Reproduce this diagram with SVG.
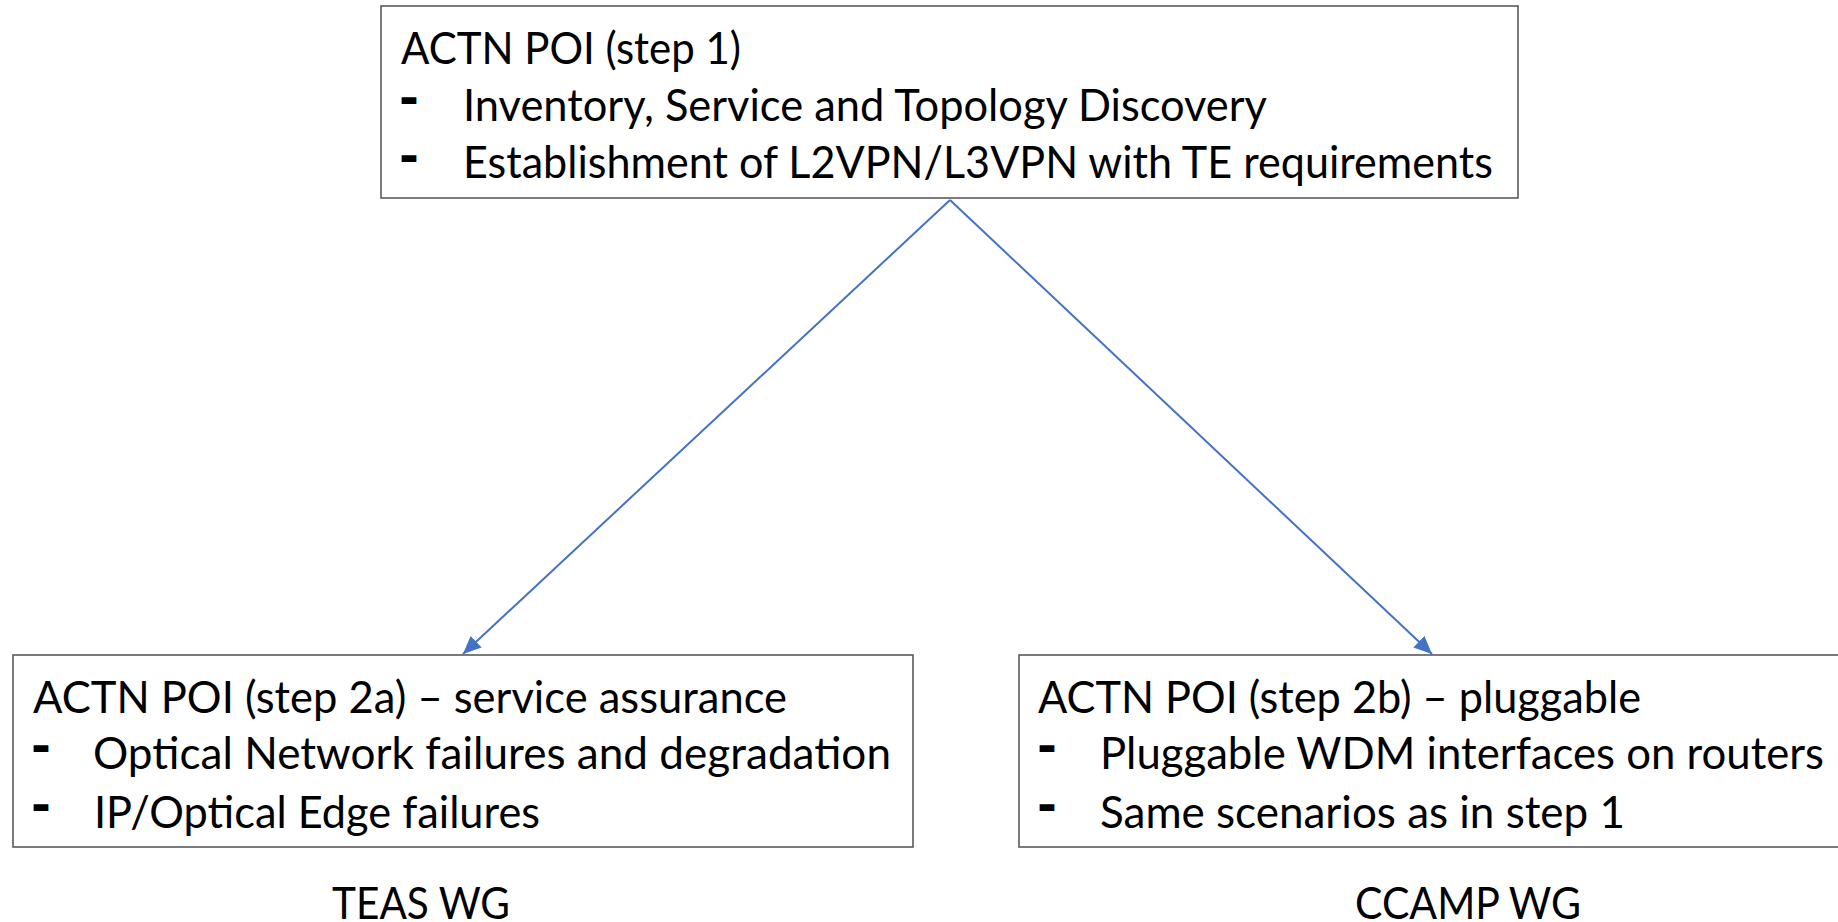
<svg xmlns="http://www.w3.org/2000/svg" width="1838" height="922" viewBox="0 0 1838 922">
  <style>
    .box { fill: #ffffff; stroke: #5a5a5a; stroke-width: 1.6; }
    .txt { font-family: Lato, "Open Sans", "Liberation Sans", sans-serif; font-size: 44px; fill: #000000; }
    .dash { font-family: "DejaVu Sans", sans-serif; font-weight: bold; font-size: 48px; fill: #000000; }
    .link { fill: none; stroke: #4472C4; stroke-width: 2; }
  </style>
  <defs>
    <marker id="arrow" markerUnits="userSpaceOnUse" markerWidth="20" markerHeight="16" refX="18" refY="8" orient="auto">
      <path d="M0,0 L18,8 L0,16 Z" fill="#4472C4"/>
    </marker>
  </defs>
  <rect width="1838" height="922" fill="#ffffff"/>

  <!-- connectors -->
  <g id="connectors">
    <line class="link" x1="950" y1="200" x2="463" y2="654" marker-end="url(#arrow)"/>
    <line class="link" x1="950" y1="200" x2="1432" y2="654" marker-end="url(#arrow)"/>
  </g>

  <!-- step 1 -->
  <g id="step1">
    <rect class="box" x="381" y="6" width="1137" height="192"/>
    <text class="txt" x="401" y="64" textLength="340" lengthAdjust="spacingAndGlyphs">ACTN POI (step 1)</text>
    <text class="dash" x="399" y="114">-</text>
    <text class="txt" x="463" y="121" textLength="804" lengthAdjust="spacingAndGlyphs">Inventory, Service and Topology Discovery</text>
    <text class="dash" x="399" y="172">-</text>
    <text class="txt" x="463" y="178" textLength="1030" lengthAdjust="spacingAndGlyphs">Establishment of L2VPN/L3VPN with TE requirements</text>
  </g>

  <!-- step 2a -->
  <g id="step2a">
    <rect class="box" x="13" y="655" width="900" height="192"/>
    <text class="txt" x="33" y="713" textLength="754" lengthAdjust="spacingAndGlyphs">ACTN POI (step 2a) – service assurance</text>
    <text class="dash" x="31" y="762">-</text>
    <text class="txt" x="93" y="769" textLength="798" lengthAdjust="spacingAndGlyphs">Optical Network failures and degradation</text>
    <text class="dash" x="31" y="821">-</text>
    <text class="txt" x="94" y="828" textLength="446" lengthAdjust="spacingAndGlyphs">IP/Optical Edge failures</text>
  </g>

  <!-- step 2b -->
  <g id="step2b">
    <rect class="box" x="1019" y="655" width="830" height="192"/>
    <text class="txt" x="1038" y="713" textLength="603" lengthAdjust="spacingAndGlyphs">ACTN POI (step 2b) – pluggable</text>
    <text class="dash" x="1037" y="762">-</text>
    <text class="txt" x="1100" y="769" textLength="724" lengthAdjust="spacingAndGlyphs">Pluggable WDM interfaces on routers</text>
    <text class="dash" x="1037" y="821">-</text>
    <text class="txt" x="1100" y="828" textLength="525" lengthAdjust="spacingAndGlyphs">Same scenarios as in step 1</text>
  </g>

  <!-- working group labels -->
  <g id="teas">
    <text class="txt" x="332" y="919" textLength="178" lengthAdjust="spacingAndGlyphs">TEAS WG</text>
  </g>
  <g id="ccamp">
    <text class="txt" x="1355" y="919" textLength="226" lengthAdjust="spacingAndGlyphs">CCAMP WG</text>
  </g>
</svg>
